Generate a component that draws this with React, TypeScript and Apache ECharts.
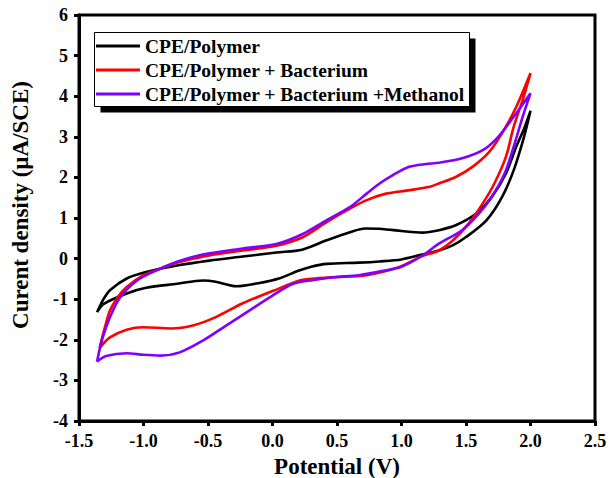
import React, { useEffect, useRef } from "react";
import * as echarts from "echarts";

const seriesNames = [
  "CPE/Polymer",
  "CPE/Polymer + Bacterium",
  "CPE/Polymer + Bacterium +Methanol",
];
const seriesColors = ["#000000", "#ff0000", "#8000ff"];

// CPE/Polymer: forward (upper) then reverse (lower) scan
const polymerForward: [number, number][] = [
  [-1.36, -1.32], [-1.31, -1.0], [-1.26, -0.78], [-1.13, -0.49], [-0.98, -0.33],
  [-0.74, -0.17], [-0.49, -0.05], [-0.23, 0.05], [0.03, 0.15], [0.23, 0.22],
  [0.42, 0.45], [0.6, 0.65], [0.72, 0.74], [0.85, 0.73], [1.0, 0.68],
  [1.16, 0.64], [1.29, 0.7], [1.42, 0.82], [1.58, 1.11], [1.7, 1.52],
  [1.81, 2.1], [1.89, 2.76], [1.95, 3.2], [2.0, 3.64],
];
const polymerReverse: [number, number][] = [
  [1.95, 3.0], [1.87, 2.18], [1.78, 1.52], [1.66, 0.95], [1.5, 0.53],
  [1.4, 0.33], [1.29, 0.2], [1.16, 0.1], [1.0, -0.02], [0.83, -0.07],
  [0.67, -0.1], [0.42, -0.13], [0.3, -0.2], [0.2, -0.3], [0.05, -0.49],
  [-0.1, -0.6], [-0.28, -0.68], [-0.44, -0.57], [-0.54, -0.54], [-0.74, -0.62],
  [-0.98, -0.72], [-1.13, -0.86], [-1.31, -1.12], [-1.36, -1.32],
];

// CPE/Polymer + Bacterium
const bacteriumForward: [number, number][] = [
  [-1.34, -2.2], [-1.3, -1.7], [-1.26, -1.28], [-1.2, -0.95], [-1.13, -0.7],
  [-1.0, -0.41], [-0.87, -0.25], [-0.74, -0.1], [-0.61, 0.0], [-0.49, 0.08],
  [-0.23, 0.2], [0.03, 0.32], [0.23, 0.52], [0.42, 0.9], [0.6, 1.23],
  [0.73, 1.44], [0.88, 1.6], [1.05, 1.68], [1.22, 1.77], [1.29, 1.85],
  [1.42, 2.01], [1.55, 2.26], [1.68, 2.63], [1.78, 3.09], [1.89, 3.74],
  [2.0, 4.57],
];
const bacteriumReverse: [number, number][] = [
  [1.94, 3.91], [1.87, 3.25], [1.81, 2.51], [1.72, 1.85], [1.63, 1.36],
  [1.52, 0.86], [1.4, 0.45], [1.29, 0.2], [1.16, 0.06], [0.98, -0.21],
  [0.73, -0.41], [0.47, -0.46], [0.3, -0.5], [0.21, -0.54], [0.0, -0.8],
  [-0.23, -1.1], [-0.44, -1.44], [-0.61, -1.64], [-0.79, -1.72], [-1.0, -1.69],
  [-1.13, -1.75], [-1.26, -1.94], [-1.34, -2.2],
];

// CPE/Polymer + Bacterium +Methanol
const methanolForward: [number, number][] = [
  [-1.36, -2.54], [-1.33, -2.1], [-1.29, -1.69], [-1.24, -1.3], [-1.18, -0.95],
  [-1.05, -0.54], [-0.9, -0.29], [-0.74, -0.08], [-0.54, 0.1], [-0.23, 0.25],
  [0.03, 0.36], [0.23, 0.6], [0.42, 0.95], [0.6, 1.27], [0.73, 1.6],
  [0.83, 1.85], [0.93, 2.05], [1.06, 2.26], [1.19, 2.33], [1.29, 2.36],
  [1.47, 2.47], [1.63, 2.67], [1.75, 3.0], [1.89, 3.58], [2.0, 4.07],
];
const methanolReverse: [number, number][] = [
  [1.94, 3.5], [1.87, 2.76], [1.8, 2.1], [1.7, 1.52], [1.6, 1.11],
  [1.47, 0.7], [1.29, 0.37], [1.16, 0.07], [1.0, -0.2], [0.83, -0.32],
  [0.67, -0.41], [0.47, -0.46], [0.31, -0.53], [0.16, -0.62], [0.0, -0.91],
  [-0.18, -1.28], [-0.36, -1.65], [-0.54, -2.02], [-0.72, -2.31], [-0.87, -2.39],
  [-1.0, -2.37], [-1.13, -2.33], [-1.29, -2.4], [-1.36, -2.54],
];

const xTitle = "Potential (V)";
const yTitle = "Curent density (\u00b5A/SCE)";

const FONT = "'Times New Roman', 'Liberation Serif', serif";

export default function App() {
  const ref = useRef<HTMLDivElement>(null);
  useEffect(() => {
    if (!ref.current) return;
    const chart = echarts.init(ref.current, undefined, { renderer: "svg" });
    const loops = [
      [...polymerForward, ...polymerReverse],
      [...bacteriumForward, ...bacteriumReverse],
      [...methanolForward, ...methanolReverse],
    ];
    chart.setOption({
      animation: false,
      backgroundColor: "#ffffff",
      grid: {
        left: 79,
        right: 14,
        top: 15,
        bottom: 57,
        outerBoundsMode: "none",
        containLabel: false,
        show: true,
        borderColor: "#000",
        borderWidth: 3,
        backgroundColor: "transparent",
      },
      xAxis: {
        type: "value",
        min: -1.5,
        max: 2.5,
        interval: 0.5,
        splitLine: { show: false },
        axisLine: { show: true, onZero: false, lineStyle: { color: "#000", width: 3 } },
        axisTick: { show: true, inside: false, length: 5, lineStyle: { color: "#000", width: 3 } },
        axisLabel: {
          margin: 11,
          color: "#000",
          fontFamily: FONT,
          fontWeight: "bold",
          fontSize: 18,
          formatter: (v: number) => v.toFixed(1),
        },
        name: xTitle,
        nameLocation: "middle",
        nameGap: 30,
        nameTextStyle: { color: "#000", fontFamily: FONT, fontWeight: "bold", fontSize: 23 },
      },
      yAxis: {
        type: "value",
        min: -4,
        max: 6,
        interval: 1,
        splitLine: { show: false },
        axisLine: { show: true, onZero: false, lineStyle: { color: "#000", width: 3 } },
        axisTick: { show: true, inside: false, length: 5, lineStyle: { color: "#000", width: 3 } },
        axisLabel: {
          margin: 11,
          color: "#000",
          fontFamily: FONT,
          fontWeight: "bold",
          fontSize: 18,
        },
      },
      legend: {
        show: true,
        orient: "vertical",
        left: 94,
        top: 33,
        padding: [3, 3, 3, 2],
        itemGap: 4,
        itemWidth: 44,
        itemHeight: 3,
        icon: "rect",
        data: seriesNames,
        textStyle: { color: "#000", fontFamily: FONT, fontWeight: "bold", fontSize: 19.5, lineHeight: 20 },
        z: 5,
      },
      graphic: [
        {
          type: "rect",
          z: 3,
          shape: { x: 100.5, y: 38.5, width: 375, height: 74 },
          style: { fill: "#000" },
        },
        {
          type: "rect",
          z: 4,
          shape: { x: 94.5, y: 32.5, width: 375, height: 74 },
          style: { fill: "#fff", stroke: "#000", lineWidth: 1 },
        },
        {
          type: "text",
          x: 20,
          y: 205,
          rotation: Math.PI / 2,
          style: {
            text: yTitle,
            fill: "#000",
            font: "bold 23px 'Times New Roman', 'Liberation Serif', serif",
            textAlign: "center",
            textVerticalAlign: "middle",
          },
        },
      ],
      series: loops.map((d, i) => ({
        name: seriesNames[i],
        type: "line",
        data: d,
        smooth: 0.3,
        showSymbol: false,
        symbol: "none",
        lineStyle: { color: seriesColors[i], width: 2.6 },
        itemStyle: { color: seriesColors[i] },
      })),
    });
    return () => chart.dispose();
  }, []);
  return <div ref={ref} style={{ width: 609, height: 478, position: "absolute", left: 0, top: 0 }} />;
}
